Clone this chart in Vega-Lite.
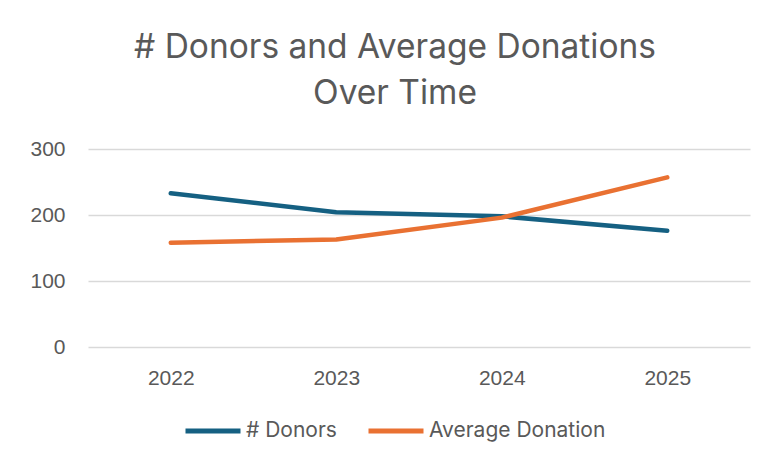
{
  "$schema": "https://vega.github.io/schema/vega-lite/v6.json",
  "autosize": {"type": "none"},
  "width": 662,
  "height": 198,
  "padding": {"left": 88, "top": 149, "right": 30, "bottom": 121},
  "background": "white",
  "title": {
    "text": ["# Donors and Average Donations", "Over Time"],
    "anchor": "middle",
    "frame": "group",
    "dx": -24,
    "fontSize": 33.5,
    "font": "Inter",
    "fontWeight": "normal",
    "color": "#595959",
    "lineHeight": 46,
    "baseline": "alphabetic",
    "offset": 1
  },
  "data": {
    "values": [
      {"year": "2022", "series": "# Donors", "value": 233},
      {"year": "2023", "series": "# Donors", "value": 204},
      {"year": "2024", "series": "# Donors", "value": 198},
      {"year": "2025", "series": "# Donors", "value": 176},
      {"year": "2022", "series": "Average Donation", "value": 158},
      {"year": "2023", "series": "Average Donation", "value": 163},
      {"year": "2024", "series": "Average Donation", "value": 196},
      {"year": "2025", "series": "Average Donation", "value": 257}
    ]
  },
  "mark": {"type": "line", "strokeWidth": 4.5, "strokeCap": "round", "strokeJoin": "round"},
  "encoding": {
    "x": {
      "field": "year",
      "type": "ordinal",
      "scale": {"type": "point", "padding": 0.5},
      "axis": {
        "title": null,
        "labelAngle": 0,
        "domain": false,
        "ticks": false,
        "grid": false,
        "labelFont": "Liberation Sans",
        "labelFontSize": 21,
        "labelColor": "#595959",
        "labelPadding": 20
      }
    },
    "y": {
      "field": "value",
      "type": "quantitative",
      "scale": {"domain": [0, 300], "nice": false},
      "axis": {
        "title": null,
        "values": [0, 100, 200, 300],
        "domain": false,
        "ticks": false,
        "grid": true,
        "gridColor": "#d9d9d9",
        "gridWidth": 1.5,
        "labelFont": "Liberation Sans",
        "labelFontSize": 21,
        "labelColor": "#595959",
        "labelPadding": 23
      }
    },
    "color": {
      "field": "series",
      "type": "nominal",
      "scale": {"domain": ["# Donors", "Average Donation"], "range": ["#156082", "#E97132"]},
      "legend": {
        "title": null,
        "orient": "none",
        "direction": "horizontal",
        "legendX": 95,
        "legendY": 252,
        "symbolType": "stroke",
        "symbolSize": 3025,
        "symbolStrokeWidth": 5,
        "labelFont": "Inter",
        "labelFontSize": 21,
        "labelColor": "#595959",
        "labelOffset": 3,
        "columnPadding": 21,
        "labelLimit": 300
      }
    }
  },
  "config": {"view": {"stroke": null}}
}
